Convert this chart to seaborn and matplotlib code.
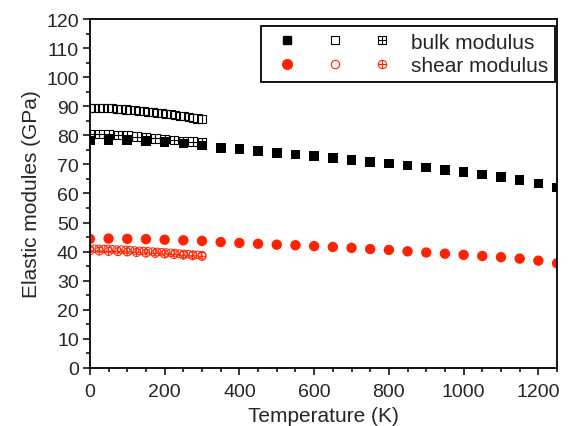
import numpy as np
import seaborn as sns
import matplotlib.pyplot as plt
from matplotlib.path import Path
from matplotlib.lines import Line2D
from matplotlib.legend_handler import HandlerTuple
from matplotlib.ticker import MultipleLocator

# temperaturas (K)
T_filled = [0, 50, 100, 150, 200, 250, 300, 350, 400, 450, 500, 550, 600,
            650, 700, 750, 800, 850, 900, 950, 1000, 1050, 1100, 1150, 1200, 1250]
T_open = [0, 12, 24, 36, 48, 60, 72, 84, 96, 108, 120, 132, 144,
          156, 168, 180, 192, 204, 216, 228, 240, 252, 264, 276, 288, 300]
T_cross = [0, 25, 50, 75, 100, 125, 150, 175, 200, 225, 250, 275, 300]

# modulo volumetrico (GPa)
bulk_filled = [78.2, 78.3, 78.5, 78.0, 77.7, 77.2, 76.5, 75.7, 75.2, 74.7, 74.0, 73.4, 72.8,
               72.2, 71.6, 70.9, 70.3, 69.6, 68.9, 68.1, 67.3, 66.5, 65.6, 64.6, 63.5, 62.0]
bulk_open = [89.4, 89.4, 89.5, 89.4, 89.4, 89.3, 89.2, 89.0, 88.9, 88.8, 88.6, 88.5, 88.3,
             88.1, 88.0, 87.8, 87.6, 87.4, 87.2, 87.0, 86.8, 86.6, 86.3, 86.1, 85.8, 85.5]
bulk_cross = [80.4, 80.4, 80.3, 80.1, 79.9, 79.6, 79.3, 79.0, 78.7, 78.4, 78.1, 77.8, 77.5]

# modulo de cizalla (GPa)
shear_filled = [44.4, 44.5, 44.4, 44.3, 44.1, 43.9, 43.7, 43.3, 43.0, 42.7, 42.4, 42.2, 41.9,
                41.6, 41.3, 40.9, 40.6, 40.1, 39.7, 39.3, 38.9, 38.5, 38.1, 37.6, 36.9, 36.0]
shear_open = [41.0, 41.0, 41.0, 40.9, 40.9, 40.8, 40.7, 40.7, 40.6, 40.5, 40.4, 40.3, 40.2,
              40.1, 40.0, 39.9, 39.8, 39.7, 39.6, 39.5, 39.3, 39.2, 39.1, 39.0, 38.9, 38.8]
shear_cross = [40.3, 40.2, 40.1, 40.0, 39.9, 39.7, 39.5, 39.4, 39.2, 39.0, 38.8, 38.6, 38.4]

red = '#ff2200'

# marcadores: cuadro con cruz y circulo con cruz
cross = Path([(-1, 0), (1, 0), (0, -1), (0, 1)],
             [Path.MOVETO, Path.LINETO, Path.MOVETO, Path.LINETO])
square = Path([(-1, -1), (1, -1), (1, 1), (-1, 1), (-1, -1)],
              [Path.MOVETO, Path.LINETO, Path.LINETO, Path.LINETO, Path.CLOSEPOLY])
sq_cross = Path.make_compound_path(square, cross)
circ_cross = Path.make_compound_path(Path.unit_circle(), cross)

sns.set_style('ticks')
plt.rcParams['font.family'] = ['Liberation Sans', 'DejaVu Sans']

fig = plt.figure(figsize=(5.69, 4.27), dpi=100)
ax = fig.add_axes([0.158, 0.136, 0.821, 0.817])

sns.scatterplot(x=T_filled, y=bulk_filled, marker='s', s=48, color='black',
                edgecolor='none', ax=ax)
sns.scatterplot(x=T_open, y=bulk_open, marker='s', s=34, facecolor='none',
                edgecolor='black', linewidth=0.8, ax=ax)
sns.scatterplot(x=T_cross, y=bulk_cross, marker=sq_cross, s=38, facecolor='none',
                edgecolor='black', linewidth=0.8, ax=ax)

sns.scatterplot(x=T_filled, y=shear_filled, marker='o', s=56, color=red,
                edgecolor='none', ax=ax)
sns.scatterplot(x=T_open, y=shear_open, marker='o', s=30, facecolor='none',
                edgecolor=red, linewidth=0.7, ax=ax)
sns.scatterplot(x=T_cross, y=shear_cross, marker=circ_cross, s=34, facecolor='none',
                edgecolor=red, linewidth=0.7, ax=ax)

ax.set_xlim(0, 1250)
ax.set_ylim(0, 120)
ax.xaxis.set_major_locator(MultipleLocator(200))
ax.xaxis.set_minor_locator(MultipleLocator(50))
ax.yaxis.set_major_locator(MultipleLocator(10))
ax.yaxis.set_minor_locator(MultipleLocator(5))
ax.tick_params(which='major', direction='out', length=5, width=1.1, labelsize=14, color='black')
ax.tick_params(which='minor', direction='out', length=3, width=1.1, color='black')
ax.tick_params(axis='x', pad=5.5)
ax.tick_params(axis='y', pad=3)
for sp in ax.spines.values():
    sp.set_visible(True)
    sp.set_linewidth(1.3)
    sp.set_color('black')

ax.set_xlabel('Temperature (K)', fontsize=15, labelpad=5)
ax.set_ylabel('Elastic modules (GPa)', fontsize=15, labelpad=4)

h_bulk = (Line2D([], [], ls='none', marker='s', ms=6, color='black'),
          Line2D([], [], ls='none', marker='s', ms=6, mfc='none', mec='black', mew=0.8),
          Line2D([], [], ls='none', marker=sq_cross, ms=6, mfc='none', mec='black', mew=0.8))
h_shear = (Line2D([], [], ls='none', marker='o', ms=7, color=red),
           Line2D([], [], ls='none', marker='o', ms=6, mfc='none', mec=red, mew=0.8),
           Line2D([], [], ls='none', marker=circ_cross, ms=6, mfc='none', mec=red, mew=0.8))
leg = ax.legend([h_bulk, h_shear], ['bulk modulus', 'shear modulus'],
                handler_map={tuple: HandlerTuple(ndivide=None, pad=0.43)},
                loc='upper right', bbox_to_anchor=(0.996, 0.98), fontsize=15,
                handlelength=6.42, handletextpad=0.47, borderpad=0.32,
                labelspacing=0.2, borderaxespad=0, fancybox=False, framealpha=1)
leg.get_frame().set_edgecolor('black')
leg.get_frame().set_linewidth(1.3)

fig.savefig('out.png', dpi=100)
